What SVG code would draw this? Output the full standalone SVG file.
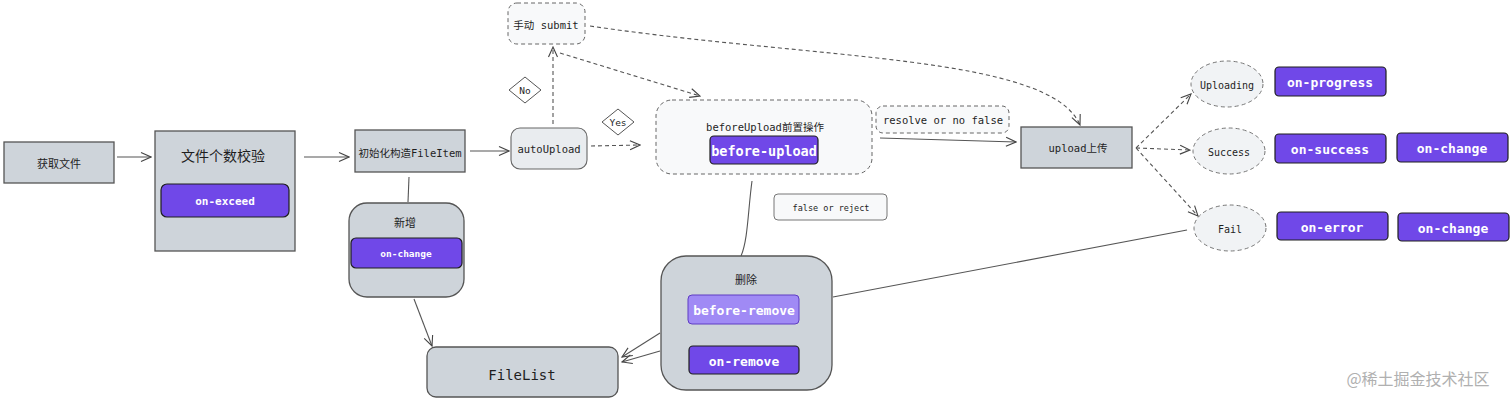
<svg xmlns="http://www.w3.org/2000/svg" width="1512" height="402" viewBox="0 0 1512 402">
<defs>
<marker id="arr" viewBox="0 0 12 12" refX="11" refY="6" markerWidth="12" markerHeight="12" markerUnits="userSpaceOnUse" orient="auto">
<path d="M1,1.5 L11,6 L1,10.5" fill="none" stroke="#444" stroke-width="1.1"/>
</marker>
</defs>
<style>
text{font-family:"DejaVu Sans Mono","Noto Sans CJK SC",monospace;fill:#1e1e1e;text-anchor:middle;dominant-baseline:central}
.gray{fill:#ced4da;stroke:#555;stroke-width:1.3}
.light{fill:#f8f9fa;stroke:#666;stroke-width:1;stroke-dasharray:4 3}
.lightsolid{fill:#f8f9fa;stroke:#777;stroke-width:1}
.purple{fill:#7048e8;stroke:#1e1e1e;stroke-width:1.2}
.ptext{fill:#fff;font-weight:bold}
.ell{fill:#f1f3f5;stroke:#777;stroke-width:1;stroke-dasharray:4 3}
.c{fill:none;stroke:#555;stroke-width:1.1}
.cd{fill:none;stroke:#555;stroke-width:1.1;stroke-dasharray:4 3}
.cjk{font-family:"Noto Sans CJK SC",sans-serif}
</style>
<rect width="1512" height="402" fill="#ffffff"/>

<g id="connectors">
<line class="c" x1="117" y1="157" x2="151" y2="157" marker-end="url(#arr)"/>
<line class="c" x1="304" y1="157" x2="349" y2="157" marker-end="url(#arr)"/>
<line class="c" x1="470" y1="151" x2="509" y2="151" marker-end="url(#arr)"/>
<line class="c" x1="409" y1="177" x2="408" y2="202"/>
<line class="c" x1="414" y1="299" x2="432" y2="346" marker-end="url(#arr)"/>
<line class="cd" x1="553" y1="124" x2="553" y2="47" marker-end="url(#arr)"/>
<line class="cd" x1="591" y1="146" x2="640" y2="145" marker-end="url(#arr)"/>
<line class="cd" x1="560" y1="53" x2="700" y2="96" marker-end="url(#arr)"/>
<path class="cd" d="M590,26 C820,60 1050,55 1080,125" marker-end="url(#arr)"/>
<line class="c" x1="880" y1="138" x2="1016" y2="142" marker-end="url(#arr)"/>
<path class="c" d="M752,181 C748,210 748,240 741,256"/>
<line class="cd" x1="1136" y1="148" x2="1191" y2="94" marker-end="url(#arr)"/>
<line class="cd" x1="1136" y1="148" x2="1190" y2="150" marker-end="url(#arr)"/>
<line class="cd" x1="1136" y1="148" x2="1198" y2="216" marker-end="url(#arr)"/>
<line class="c" x1="1187" y1="230" x2="833" y2="297"/>
<line class="c" x1="660" y1="333" x2="622" y2="357" marker-end="url(#arr)"/>
<line class="c" x1="660" y1="351" x2="622" y2="362" marker-end="url(#arr)"/>
<line class="c" x1="744" y1="325" x2="744" y2="344" marker-end="url(#arr)"/>
</g>

<g id="node-getfile">
<rect class="gray" x="4" y="142" width="110" height="41"/>
<text class="cjk" x="59" y="163" font-size="11">获取文件</text>
</g>

<g id="node-count">
<rect class="gray" x="155" y="131" width="140" height="120"/>
<text class="cjk" x="223" y="155" font-size="14">文件个数校验</text>
<rect class="purple" x="161" y="184" width="128" height="33" rx="6"/>
<text class="ptext" x="225" y="201" font-size="11">on-exceed</text>
</g>

<g id="node-init">
<rect class="gray" x="355" y="130" width="110" height="42"/>
<text x="410" y="153" font-size="10.5">初始化构造FileItem</text>
</g>

<g id="node-add">
<rect class="gray" x="349" y="203" width="115" height="94" rx="18"/>
<text class="cjk" x="405" y="222" font-size="11">新增</text>
<rect class="purple" x="351" y="238" width="111" height="30" rx="5"/>
<text class="ptext" x="406" y="253" font-size="9.5">on-change</text>
</g>

<g id="node-submit">
<rect class="light" x="508" y="3" width="77" height="41" rx="9"/>
<text x="546" y="25" font-size="10.5">手动 submit</text>
</g>

<g id="node-no">
<polygon points="525,77 541,90 525,103 509,90" fill="#fff" stroke="#555" stroke-width="1"/>
<text x="525" y="90" font-size="9.5">No</text>
</g>

<g id="node-yes">
<polygon points="618,109 634,122 618,135 602,122" fill="#fff" stroke="#555" stroke-width="1"/>
<text x="618" y="122" font-size="9.5">Yes</text>
</g>

<g id="node-autoupload">
<rect x="511" y="128" width="76" height="41" rx="9" fill="#e9ecef" stroke="#666" stroke-width="1.1"/>
<text x="549" y="149" font-size="10.5">autoUpload</text>
</g>

<g id="node-beforeupload">
<rect class="light" x="656" y="100" width="216" height="74" rx="16"/>
<text x="765" y="127" font-size="10.5">beforeUpload前置操作</text>
<rect class="purple" x="710" y="136" width="108" height="28" rx="4"/>
<text class="ptext" x="764" y="151" font-size="13.5">before-upload</text>
</g>

<g id="node-resolve">
<rect class="light" x="876" y="106" width="133" height="27" rx="7"/>
<text x="943" y="120" font-size="10.5">resolve or no false</text>
</g>

<g id="node-reject">
<rect class="lightsolid" x="774" y="194" width="113" height="26" rx="4"/>
<text x="831" y="208" font-size="8.5">false or reject</text>
</g>

<g id="node-upload">
<rect class="gray" x="1021" y="127" width="111" height="41"/>
<text x="1078" y="148" font-size="10.5">upload上传</text>
</g>

<g id="node-uploading">
<ellipse class="ell" cx="1227" cy="84" rx="36" ry="23"/>
<text x="1227" y="85" font-size="10">Uploading</text>
</g>
<g id="node-success">
<ellipse class="ell" cx="1229" cy="151" rx="36" ry="23"/>
<text x="1229" y="152" font-size="10">Success</text>
</g>
<g id="node-fail">
<ellipse class="ell" cx="1230" cy="228" rx="36" ry="23"/>
<text x="1230" y="229" font-size="10">Fail</text>
</g>

<g id="node-onprogress">
<rect class="purple" x="1275" y="67" width="111" height="29" rx="4"/>
<text class="ptext" x="1330" y="82" font-size="13">on-progress</text>
</g>
<g id="node-onsuccess">
<rect class="purple" x="1275" y="134" width="111" height="29" rx="4"/>
<text class="ptext" x="1330" y="149" font-size="13">on-success</text>
</g>
<g id="node-onchange1">
<rect class="purple" x="1397" y="133" width="111" height="29" rx="4"/>
<text class="ptext" x="1452" y="148" font-size="13">on-change</text>
</g>
<g id="node-onerror">
<rect class="purple" x="1277" y="212" width="111" height="28" rx="4"/>
<text class="ptext" x="1332" y="227" font-size="13">on-error</text>
</g>
<g id="node-onchange2">
<rect class="purple" x="1398" y="213" width="111" height="28" rx="4"/>
<text class="ptext" x="1453" y="228" font-size="13">on-change</text>
</g>

<g id="node-remove">
<rect class="gray" x="661" y="256" width="171" height="134" rx="25"/>
<text class="cjk" x="746" y="279" font-size="11">删除</text>
<rect x="688" y="295" width="111" height="29" rx="4" fill="#a08af5" stroke="#5f3dc4" stroke-width="1"/>
<text class="ptext" x="744" y="310" font-size="13">before-remove</text>
<rect class="purple" x="689" y="346" width="110" height="28" rx="4"/>
<text class="ptext" x="744" y="361" font-size="13">on-remove</text>
</g>

<g id="node-filelist">
<rect class="gray" x="427" y="347" width="191" height="50" rx="9"/>
<text x="522" y="375" font-size="14">FileList</text>
</g>

<text x="1418" y="378" font-size="16" style="font-family:'Noto Sans CJK SC',sans-serif;fill:#b0b0b0">@稀土掘金技术社区</text>
</svg>
